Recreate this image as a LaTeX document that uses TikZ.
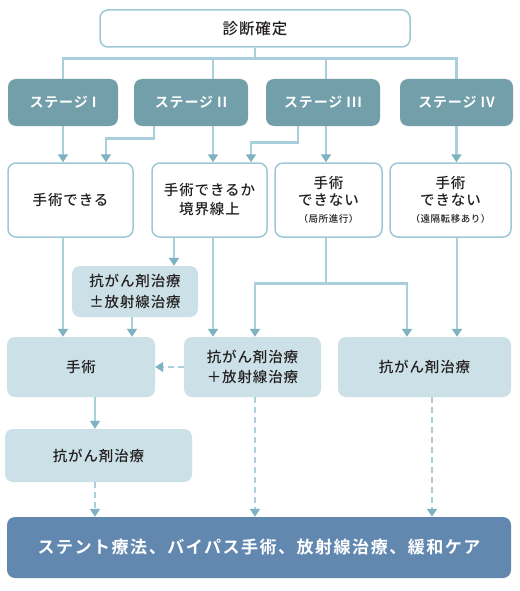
\documentclass[tikz,border=0pt]{standalone}
\usepackage{fontspec}
\setmainfont{Noto Sans CJK JP Medium}[LetterSpace=6,BoldFont={Noto Sans CJK JP Bold}]
\usepackage{tikz}
\usetikzlibrary{arrows.meta}
\definecolor{linec}{HTML}{A9CFDC}
\definecolor{arrowc}{HTML}{7FB2C1}
\definecolor{stagec}{HTML}{739FAA}
\definecolor{lightc}{HTML}{CCE1E7}
\definecolor{borderc}{HTML}{9FC8D5}
\definecolor{bottomc}{HTML}{6388AF}
\definecolor{textc}{HTML}{231F20}

\begin{document}
\begin{tikzpicture}[x=1pt,y=-1pt,>={Triangle[width=10pt,length=8pt,color=arrowc]},
                    font=\fontsize{14.5}{20.5}\selectfont,text=textc]
  \tikzstyle{conn}=[draw=linec,line width=2.8pt]
  \tikzstyle{dconn}=[conn,dash pattern=on 6pt off 4pt]
  \tikzstyle{whitebox}=[rectangle,rounded corners=8pt,draw=borderc,line width=1.5pt,
    fill=white,align=center,inner sep=0pt]
  \tikzstyle{stage}=[rectangle,rounded corners=8pt,fill=stagec,text=white,
    font=\bfseries\fontsize{14}{17}\selectfont,inner sep=0pt]
  \tikzstyle{treat}=[rectangle,rounded corners=8pt,fill=lightc,align=center,inner sep=0pt]
  \useasboundingbox[fill=white] (0,0) rectangle (519,591);

  \node[whitebox,minimum width=310pt,minimum height=37pt,font=\fontsize{15.5}{19}\selectfont]
    (Diag) at (255,28.5) {診断確定};
  % stages
  \node[stage,minimum width=110pt,minimum height=47pt] (S1) at (63,102.5)  {ステージ I};
  \node[stage,minimum width=114pt,minimum height=47pt] (S2) at (191,102.5) {ステージ II};
  \node[stage,minimum width=114pt,minimum height=47pt] (S3) at (323,102.5) {ステージ III};
  \node[stage,minimum width=113pt,minimum height=47pt] (S4) at (456.5,102.5) {ステージ IV};
  % operability
  \node[whitebox,minimum width=125pt,minimum height=74pt] (Op1) at (70.5,200) {手術できる};
  \node[whitebox,minimum width=115pt,minimum height=74pt,font=\fontsize{14.5}{19}\selectfont]
    (Op2) at (209.5,200) {手術できるか\\境界線上};
  \node[whitebox,minimum width=107pt,minimum height=74pt,font=\fontsize{14.5}{17}\selectfont]
    (Op3) at (328.5,200) {手術\\できない\\{\fontsize{9.5}{12}\selectfont（局所進行）}};
  \node[whitebox,minimum width=121pt,minimum height=74pt,font=\fontsize{14.5}{17}\selectfont]
    (Op4) at (450.5,200) {手術\\できない\\{\fontsize{9.5}{12}\selectfont（遠隔転移あり）}};
  % treatments
  \node[treat,minimum width=126pt,minimum height=51pt] (Pre) at (135,291.5)
    {抗がん剤治療\\±放射線治療};
  \node[treat,minimum width=148pt,minimum height=60pt] (Surg) at (81,367) {手術};
  \node[treat,minimum width=137pt,minimum height=60pt] (Chemrad) at (252.5,367)
    {抗がん剤治療\\＋放射線治療};
  \node[treat,minimum width=173pt,minimum height=60pt] (Chemo) at (424.5,367) {抗がん剤治療};
  \node[treat,minimum width=187pt,minimum height=53pt] (Adj) at (98.5,455.5) {抗がん剤治療};
  \node[rectangle,rounded corners=8pt,fill=bottomc,text=white,minimum width=504pt,
    minimum height=61pt,font=\bfseries\fontsize{17}{20}\selectfont\addfontfeatures{LetterSpace=9}]
    (Care) at (259,547.5) {ステント療法、バイパス手術、放射線治療、緩和ケア};

  % tree from diagnosis
  \draw[conn] (Diag.south) -- ++(0,12);
  \draw[conn] (S1.north) -- ++(0,-20) -| (S4.north);
  \draw[conn] ([xshift=22pt]S2.north) -- ++(0,-20);
  \draw[conn] ([xshift=3pt]S3.north) -- ++(0,-20);
  % stage to operability
  \draw[conn,->] (S1.south) -- (S1.south |- Op1.north);
  \draw[conn,->] ([xshift=-37pt]S2.south) -- ++(0,12) -| ([xshift=35.5pt]Op1.north);
  \draw[conn,->] ([xshift=22pt]S2.south) -- ([xshift=22pt]S2.south |- Op2.north);
  \draw[conn,->] ([xshift=-25pt]S3.south) -- ++(0,16) -| ([xshift=41.5pt]Op2.north);
  \draw[conn,->] ([xshift=3pt]S3.south) -- ([xshift=3pt]S3.south |- Op3.north);
  \draw[conn,->] (S4.south) -- (S4.south |- Op4.north);
  % operability to treatment
  \draw[conn,->] ([xshift=-7.5pt]Op1.south) -- ([xshift=-7.5pt]Op1.south |- Surg.north);
  \draw[conn,->] ([xshift=-35.5pt]Op2.south) -- ([xshift=-35.5pt]Op2.south |- Pre.north);
  \draw[conn,->] ([xshift=-3pt]Pre.south) -- ([xshift=-3pt]Pre.south |- Surg.north);
  \draw[conn,->] ([xshift=3.5pt]Op2.south) -- ([xshift=3.5pt]Op2.south |- Chemrad.north);
  \draw[conn] ([xshift=-2.5pt]Op3.south) -- ++(0,46) coordinate (split);
  \draw[conn,->] (split) -| ([xshift=2.5pt]Chemrad.north);
  \draw[conn,->] (split) -| ([xshift=-17.5pt]Chemo.north);
  \draw[conn,->] ([xshift=6.5pt]Op4.south) -- ([xshift=6.5pt]Op4.south |- Chemo.north);
  \draw[dconn,->] (Chemrad.west) -- (Surg.east);
  \draw[conn,->] ([xshift=14pt]Surg.south) -- ([xshift=14pt]Surg.south |- Adj.north);
  % to palliative care
  \draw[dconn,->] ([xshift=-3.5pt]Adj.south) -- ([xshift=-3.5pt]Adj.south |- Care.north);
  \draw[dconn,->] ([xshift=2.5pt]Chemrad.south) -- ([xshift=2.5pt]Chemrad.south |- Care.north);
  \draw[dconn,->] ([xshift=7.5pt]Chemo.south) -- ([xshift=7.5pt]Chemo.south |- Care.north);
\end{tikzpicture}
\end{document}
